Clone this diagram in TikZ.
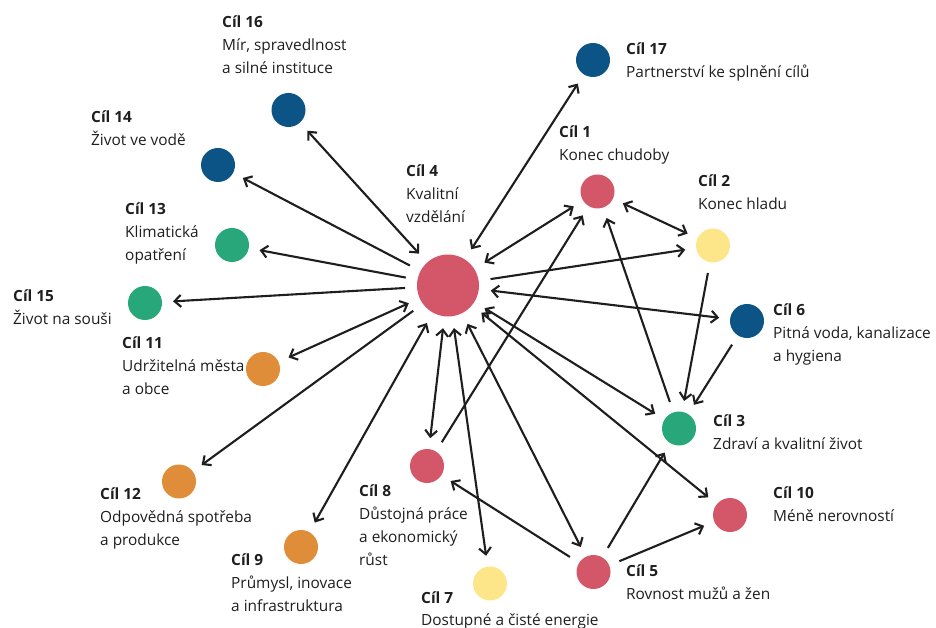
\documentclass[tikz,border=0pt]{standalone}
\usepackage{fontspec}
\setmainfont{Open Sans}
\usetikzlibrary{arrows.meta}
\definecolor{sdgred}{RGB}{212,87,105}
\definecolor{sdgblue}{RGB}{11,84,133}
\definecolor{sdggreen}{RGB}{39,167,122}
\definecolor{sdgyellow}{RGB}{253,230,138}
\definecolor{sdgorange}{RGB}{224,141,57}
\definecolor{inkgray}{RGB}{30,30,30}
\begin{document}
\begin{tikzpicture}[
    goal/.style={circle,minimum size=34pt,inner sep=0pt,outer sep=11pt},
    goaltext/.style={anchor=base west,inner sep=0pt,align=left,text=inkgray,
      font=\fontsize{15.4}{22.7}\selectfont},
    oneway/.style={draw=inkgray,line width=2.1pt,-{Straight Barb[length=6.5pt,width=12pt]}},
    twoway/.style={draw=inkgray,line width=2.1pt,
      {Straight Barb[length=6.5pt,width=12pt]}-{Straight Barb[length=6.5pt,width=12pt]}}]
    \def\x{0.0351459}
    \def\y{-0.0351459}
    \useasboundingbox (0,0) rectangle (936*\x, 628*\y);
    \node[goal,fill=sdgred,minimum size=62pt,outer sep=12pt] (G4) at (448*\x, 285.5*\y) {};
    \node[goal,fill=sdgred] (G1) at (597.5*\x, 191.5*\y) {};
    \node[goal,fill=sdgyellow] (G2) at (713*\x, 245.5*\y) {};
    \node[goal,fill=sdggreen] (G3) at (679*\x, 428.5*\y) {};
    \node[goal,fill=sdgred] (G5) at (593.5*\x, 572*\y) {};
    \node[goal,fill=sdgblue] (G6) at (747*\x, 321*\y) {};
    \node[goal,fill=sdgyellow] (G7) at (490*\x, 583.5*\y) {};
    \node[goal,fill=sdgred] (G8) at (427*\x, 466*\y) {};
    \node[goal,fill=sdgorange] (G9) at (301*\x, 547*\y) {};
    \node[goal,fill=sdgred] (G10) at (730*\x, 515*\y) {};
    \node[goal,fill=sdgorange] (G11) at (263*\x, 369*\y) {};
    \node[goal,fill=sdgorange] (G12) at (179*\x, 481.5*\y) {};
    \node[goal,fill=sdggreen] (G13) at (232*\x, 245*\y) {};
    \node[goal,fill=sdgblue] (G14) at (218*\x, 165*\y) {};
    \node[goal,fill=sdggreen] (G15) at (145*\x, 303*\y) {};
    \node[goal,fill=sdgblue] (G16) at (288.5*\x, 110*\y) {};
    \node[goal,fill=sdgblue] (G17) at (593*\x, 60*\y) {};
    \node[goaltext] (T4) at (406*\x, 222.4*\y) {\textbf{Cíl 4}\\Kvalitní\\vzdělání};
    \node[goaltext] (T1) at (559*\x, 160.7*\y) {\textbf{Cíl 1}\\Konec chudoby};
    \node[goaltext] (T2) at (698*\x, 209.7*\y) {\textbf{Cíl 2}\\Konec hladu};
    \node[goaltext] (T3) at (713*\x, 449.7*\y) {\textbf{Cíl 3}\\Zdraví a kvalitní život};
    \node[goaltext] (T5) at (626*\x, 599.7*\y) {\textbf{Cíl 5}\\Rovnost mužů a žen};
    \node[goaltext] (T6) at (773*\x, 361.4*\y) {\textbf{Cíl 6}\\Pitná voda, kanalizace\\a hygiena};
    \node[goaltext] (T7) at (421*\x, 625.7*\y) {\textbf{Cíl 7}\\Dostupné a čisté energie};
    \node[goaltext] (T8) at (359*\x, 565.1*\y) {\textbf{Cíl 8}\\Důstojná práce\\a ekonomický\\růst};
    \node[goaltext] (T9) at (231*\x, 611.4*\y) {\textbf{Cíl 9}\\Průmysl, inovace\\a infrastruktura};
    \node[goaltext] (T10) at (773*\x, 521.7*\y) {\textbf{Cíl 10}\\Méně nerovností};
    \node[goaltext] (T11) at (122*\x, 394.4*\y) {\textbf{Cíl 11}\\Udržitelná města\\a obce};
    \node[goaltext] (T12) at (100*\x, 545.4*\y) {\textbf{Cíl 12}\\Odpovědná spotřeba\\a produkce};
    \node[goaltext] (T13) at (125*\x, 260.4*\y) {\textbf{Cíl 13}\\Klimatická\\opatření};
    \node[goaltext] (T14) at (91*\x, 145.7*\y) {\textbf{Cíl 14}\\Život ve vodě};
    \node[goaltext] (T15) at (13*\x, 324.7*\y) {\textbf{Cíl 15}\\Život na souši};
    \node[goaltext] (T16) at (222*\x, 73.4*\y) {\textbf{Cíl 16}\\Mír, spravedlnost\\a silné instituce};
    \node[goaltext] (T17) at (626*\x, 77.7*\y) {\textbf{Cíl 17}\\Partnerství ke splnění cílů};
    \path (G4) edge [twoway] (G16);
    \path (G4) edge [twoway] (G17);
    \path (G4) edge [twoway] (G1);
    \path (G4) edge [twoway] (G6);
    \path (G4) edge [twoway] (G11);
    \path (G4) edge [twoway] (G9);
    \path (G4) edge [twoway] (G8);
    \path (G4) edge [twoway] (G7);
    \path (G4) edge [twoway] (G5);
    \path (G4) edge [twoway] (G3);
    \path (G4) edge [twoway] (G10);
    \path (G1) edge [twoway] (G2);
    \path (G4) edge [oneway] (G14);
    \path (G4) edge [oneway] (G13);
    \path (G4) edge [oneway] (G15);
    \path (G4) edge [oneway] (G12);
    \path (G4) edge [oneway] (G2);
    \path (G8) edge [oneway] (G1);
    \path (G3) edge [oneway] (G1);
    \path (G2) edge [oneway] (G3);
    \path (G6) edge [oneway] (G3);
    \path (G5) edge [oneway] (G3);
    \path (G5) edge [oneway] (G10);
    \path (G5) edge [oneway] (G8);
  \end{tikzpicture}
\end{document}
